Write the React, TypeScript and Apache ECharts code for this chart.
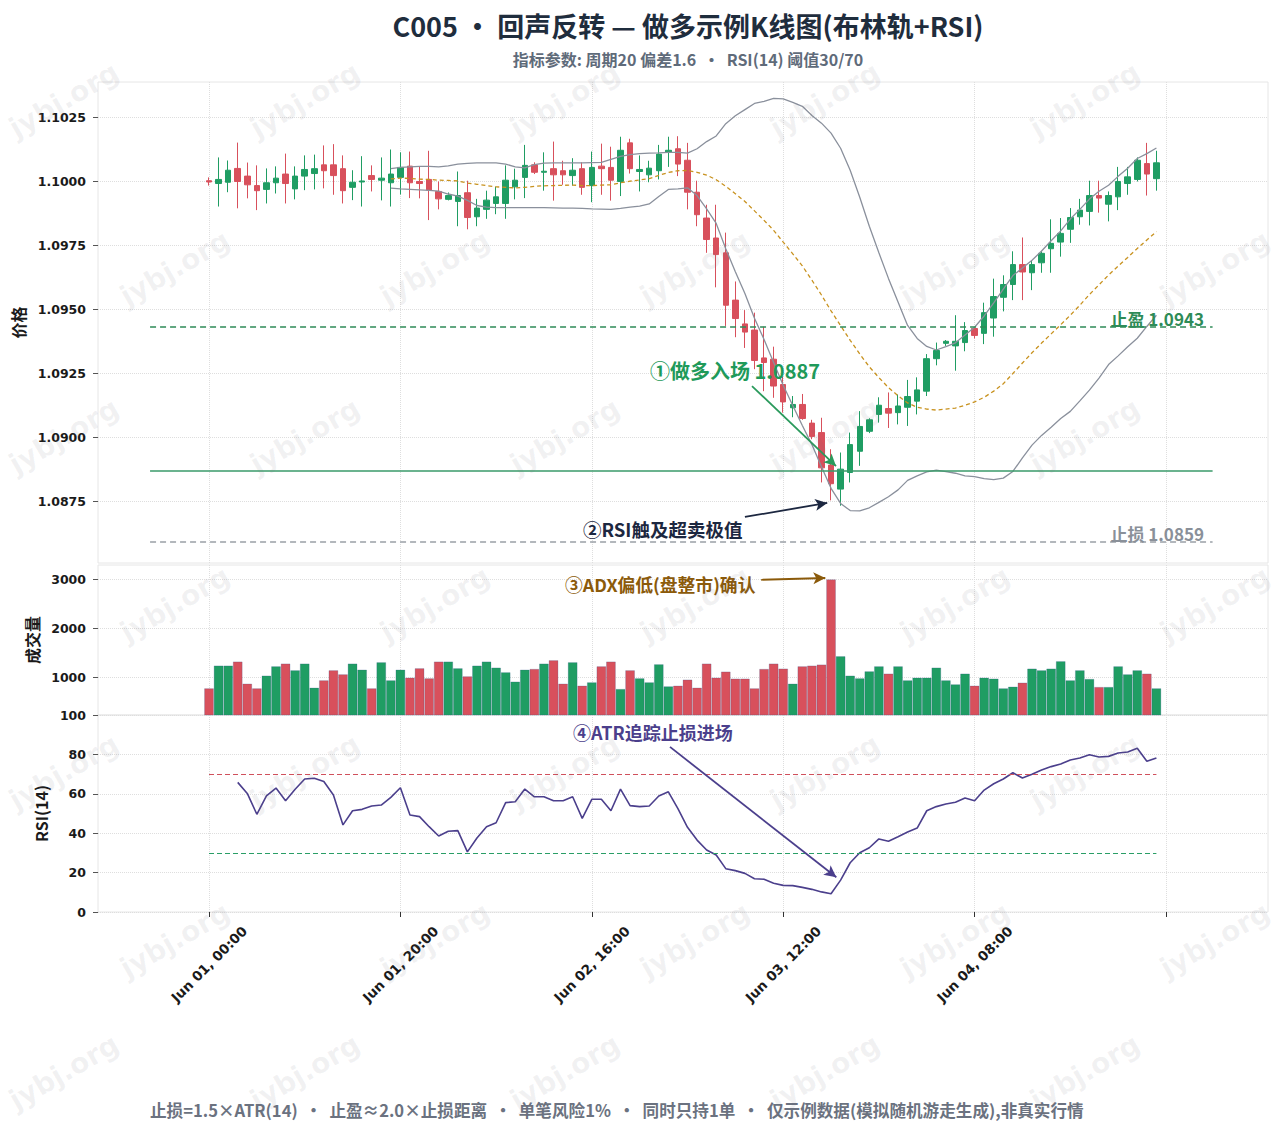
import React, { useEffect, useRef } from "react";
import * as echarts from "echarts";

// ---------- data ----------
const xTickHours = [0, 20, 40, 60, 80];
const xTickLabels = ["Jun 01, 00:00", "Jun 01, 20:00", "Jun 02, 16:00", "Jun 03, 12:00", "Jun 04, 08:00"];
const xGridHours = [0, 20, 40, 60, 80, 100];
const priceTicks = [1.0875, 1.09, 1.0925, 1.095, 1.0975, 1.1, 1.1025];
const volumeTicks = [1000, 2000, 3000];

const opens = [
  1.10003, 1.09992, 1.09997, 1.10051, 1.10021, 1.09984, 1.09969, 1.09995, 1.10029, 1.09971,
  1.10021, 1.10031, 1.10065, 1.10065, 1.1005, 1.09977, 1.09998, 1.10023, 1.10005, 1.09995,
  1.10016, 1.1006, 1.1, 1.10008, 1.09961, 1.0993, 1.09922, 1.09956, 1.09862, 1.09891,
  1.09914, 1.09914, 1.09979, 1.10016, 1.10065, 1.10036, 1.1005, 1.10042, 1.10023, 1.1005,
  1.09984, 1.1006, 1.10055, 1.1, 1.10151, 1.10039, 1.10026, 1.10042, 1.10114, 1.10128,
  1.10083, 1.09958, 1.09857, 1.09779, 1.09721, 1.09536, 1.09443, 1.09419, 1.0931, 1.09305,
  1.09206, 1.09115, 1.09128, 1.09055, 1.09018, 1.08891, 1.08797, 1.08862, 1.08945, 1.09023,
  1.09089, 1.09112, 1.09096, 1.09117, 1.09141, 1.0918, 1.09307, 1.09367, 1.09357, 1.0937,
  1.09425, 1.09406, 1.09466, 1.09547, 1.09597, 1.09675, 1.09643, 1.09682, 1.09737, 1.09763,
  1.09813, 1.09862, 1.09883, 1.09945, 1.09911, 1.0994, 1.09992, 1.10008, 1.1007, 1.10011,
];
const closes = [
  1.09998, 1.10008, 1.10044, 1.1, 1.09987, 1.09964, 1.09995, 1.10013, 1.09992, 1.10021,
  1.10047, 1.1005, 1.10042, 1.10023, 1.09964, 1.09997, 1.10002, 1.10008, 1.10013, 1.10029,
  1.10055, 1.09995, 1.09992, 1.09966, 1.09932, 1.09945, 1.09945, 1.09859, 1.09896, 1.09927,
  1.0994, 1.10005, 1.10005, 1.10063, 1.10036, 1.1004, 1.10026, 1.10026, 1.10044, 1.09977,
  1.10055, 1.1005, 1.10005, 1.10122, 1.1005, 1.10047, 1.10052, 1.10107, 1.10122, 1.10068,
  1.09958, 1.0987, 1.09773, 1.09714, 1.09516, 1.09464, 1.09411, 1.093, 1.09292, 1.092,
  1.09138, 1.09128, 1.09073, 1.09003, 1.0888, 1.08818, 1.08875, 1.08971, 1.09042, 1.09068,
  1.09125, 1.09094, 1.09122, 1.09159, 1.09185, 1.09307, 1.09339, 1.09375, 1.09375, 1.09417,
  1.09398, 1.09487, 1.0955, 1.09597, 1.09675, 1.09646, 1.09675, 1.09719, 1.09758, 1.09797,
  1.09859, 1.09888, 1.09945, 1.09935, 1.09945, 1.1, 1.10018, 1.10083, 1.10029, 1.10073,
];
const lows = [
  1.09984, 1.09902, 1.09958, 1.09895, 1.09934, 1.09888, 1.09914, 1.09953, 1.09914, 1.0993,
  1.09966, 1.09969, 1.09973, 1.09948, 1.09914, 1.09927, 1.09902, 1.09961, 1.09926, 1.09902,
  1.09949, 1.09935, 1.09934, 1.09849, 1.09891, 1.09926, 1.09825, 1.09813, 1.09825, 1.09854,
  1.09872, 1.09854, 1.0993, 1.09935, 1.10029, 1.09964, 1.09925, 1.09987, 1.09984, 1.09948,
  1.09919, 1.09948, 1.09925, 1.09943, 1.10031, 1.09961, 1.09997, 1.10008, 1.10057, 1.10021,
  1.09891, 1.09825, 1.09721, 1.09586, 1.09435, 1.09391, 1.09349, 1.09266, 1.0918, 1.09154,
  1.09096, 1.09078, 1.09068, 1.08992, 1.08823, 1.08753, 1.08732, 1.08823, 1.08888, 1.09016,
  1.09057, 1.09036, 1.0905, 1.09044, 1.09089, 1.09161, 1.09281, 1.09357, 1.0926, 1.09336,
  1.09386, 1.09364, 1.09393, 1.09492, 1.09536, 1.09536, 1.09575, 1.09643, 1.09643, 1.09706,
  1.0976, 1.09831, 1.09828, 1.09878, 1.09844, 1.09888, 1.09948, 1.1, 1.09945, 1.09964,
];
const highs = [
  1.10016, 1.10094, 1.10082, 1.10152, 1.10074, 1.10063, 1.10051, 1.10059, 1.10109, 1.10059,
  1.10102, 1.10105, 1.10141, 1.10146, 1.10102, 1.10044, 1.10099, 1.10063, 1.10094, 1.10125,
  1.10114, 1.10117, 1.10059, 1.1012, 1.1, 1.09957, 1.10039, 1.10003, 1.09932, 1.09964,
  1.09979, 1.10063, 1.1005, 1.10143, 1.10075, 1.10114, 1.10156, 1.10081, 1.10091, 1.10075,
  1.10117, 1.10148, 1.10136, 1.10175, 1.10167, 1.10102, 1.10081, 1.10143, 1.10175, 1.10177,
  1.10151, 1.10003, 1.09909, 1.09909, 1.098, 1.09609, 1.09497, 1.09487, 1.09432, 1.09354,
  1.09237, 1.09161, 1.09169, 1.09068, 1.09076, 1.08953, 1.0894, 1.09018, 1.09102, 1.09074,
  1.09156, 1.09175, 1.09167, 1.09224, 1.09234, 1.09325, 1.0937, 1.0938, 1.09477, 1.0945,
  1.09427, 1.09526, 1.0962, 1.09633, 1.09727, 1.09781, 1.0969, 1.09729, 1.09852, 1.09857,
  1.09896, 1.09932, 1.10003, 1.10003, 1.09961, 1.10057, 1.10057, 1.10094, 1.10151, 1.1012,
];
const volumes = [
  776, 1238, 1238, 1320, 871, 776, 1034, 1224, 1279, 1143,
  1279, 789, 939, 1143, 1061, 1279, 1156, 776, 1306, 939,
  1156, 993, 1184, 980, 1320, 1320, 1184, 1020, 1238, 1320,
  1197, 1102, 912, 1156, 1170, 1279, 1347, 871, 1306, 830,
  898, 1224, 1320, 762, 1143, 980, 898, 1265, 816, 830,
  953, 789, 1279, 993, 1116, 973, 973, 776, 1170, 1279,
  1177, 871, 1224, 1238, 1259, 2993, 1429, 1034, 980, 1122,
  1224, 1075, 1224, 939, 993, 993, 1197, 939, 857, 1075,
  830, 993, 973, 776, 810, 892, 1177, 1143, 1177, 1327,
  939, 1143, 966, 803, 803, 1224, 1061, 1143, 1075, 776,
];
const rsiStart = 3;
const rsiValues = [
  65.8, 60.2, 49.6, 58.9, 62.9, 56.5, 62.3, 67.5, 67.9, 66.2,
  59.4, 44.2, 51.4, 52.1, 53.8, 54.3, 58.2, 63.1, 49.2, 48.4,
  43.3, 38.6, 41.0, 41.3, 30.5, 37.6, 43.3, 45.3, 55.5, 56.0,
  62.4, 58.5, 58.5, 56.5, 56.5, 58.5, 47.5, 57.2, 57.2, 51.4,
  62.4, 54.0, 53.5, 53.8, 58.9, 61.0, 52.5, 43.0, 36.5, 31.5,
  28.9, 22.0, 21.0, 19.6, 16.9, 16.6, 14.6, 13.5, 13.4, 12.5,
  11.5, 10.2, 9.3, 16.2, 25.0, 30.1, 32.6, 37.1, 35.9, 38.2,
  40.6, 42.6, 51.4, 53.5, 54.8, 55.7, 57.9, 56.5, 61.9, 65.1,
  67.5, 70.7, 68.0, 69.9, 72.1, 73.8, 75.1, 77.2, 78.2, 79.8,
  78.7, 79.0, 80.7, 81.2, 83.1, 76.5, 78.2,
];
const bandStart = 19;
const bbUpper = [
  1.1005, 1.10055, 1.10057, 1.10059, 1.10059, 1.10057, 1.10061, 1.10068, 1.10071, 1.10073,
  1.10073, 1.10073, 1.10068, 1.10057, 1.10053, 1.10066, 1.10072, 1.10073, 1.10073, 1.10073,
  1.10073, 1.10074, 1.10075, 1.10086, 1.10098, 1.10105, 1.10109, 1.10111, 1.10112, 1.10114,
  1.10114, 1.10111, 1.10128, 1.10156, 1.10178, 1.10226, 1.10257, 1.10281, 1.10305, 1.10313,
  1.10325, 1.10323, 1.10309, 1.10294, 1.10258, 1.10228, 1.10189, 1.1013, 1.10044, 1.09938,
  1.09825, 1.09721, 1.09621, 1.09529, 1.09437, 1.09386, 1.09355, 1.09341, 1.09354, 1.09369,
  1.094, 1.0943, 1.09474, 1.09525, 1.09579, 1.09632, 1.09662, 1.09692, 1.09728, 1.09768,
  1.09807, 1.09853, 1.09891, 1.09931, 1.09962, 1.09985, 1.1002, 1.10052, 1.1009, 1.10109,
  1.10131,
];
const bbMid = [
  1.1001, 1.10013, 1.10012, 1.10009, 1.10008, 1.10005, 1.10004, 1.10002, 1.09994, 1.09989,
  1.09984, 1.09979, 1.09977, 1.09975, 1.09977, 1.09981, 1.09983, 1.09984, 1.09985, 1.09986,
  1.09984, 1.09984, 1.09986, 1.09987, 1.09995, 1.10001, 1.10006, 1.10011, 1.10024, 1.10035,
  1.10042, 1.10043, 1.10036, 1.10025, 1.10007, 1.09981, 1.09952, 1.09922, 1.09885, 1.09848,
  1.09809, 1.09763, 1.09717, 1.0967, 1.09614, 1.09556, 1.09494, 1.09436, 1.09379, 1.09325,
  1.09275, 1.09233, 1.09194, 1.09162, 1.09134, 1.09117, 1.0911, 1.09106, 1.0911, 1.09114,
  1.09125, 1.09138, 1.09156, 1.0918, 1.09209, 1.09249, 1.0929, 1.0933, 1.09368, 1.09404,
  1.0944, 1.09477, 1.09516, 1.09558, 1.09596, 1.09634, 1.09669, 1.09703, 1.09738, 1.09771,
  1.09804,
];
const bbLower = [
  1.09974, 1.09971, 1.09969, 1.09967, 1.09965, 1.09962, 1.09951, 1.09943, 1.09926, 1.09906,
  1.099, 1.09898, 1.09898, 1.09898, 1.09898, 1.09898, 1.09898, 1.09897, 1.09896, 1.09896,
  1.09895, 1.09893, 1.09892, 1.09891, 1.09895, 1.099, 1.09904, 1.09912, 1.09941, 1.09969,
  1.09971, 1.09975, 1.09945, 1.09893, 1.09836, 1.09737, 1.09647, 1.09562, 1.09465, 1.09382,
  1.09292, 1.09203, 1.09124, 1.09046, 1.08971, 1.08884, 1.088, 1.08741, 1.08713, 1.08712,
  1.08724, 1.08745, 1.08767, 1.08794, 1.08831, 1.08849, 1.08864, 1.08871, 1.08865, 1.08859,
  1.08849, 1.08846, 1.08838, 1.08834, 1.0884, 1.08866, 1.08919, 1.08969, 1.09007, 1.09039,
  1.09073, 1.09101, 1.09142, 1.09184, 1.09231, 1.09284, 1.09318, 1.09354, 1.09387, 1.09433,
  1.09477,
];

const takeProfit = 1.0943;
const entryPrice = 1.0887;
const stopLoss = 1.0859;
const rsiOverbought = 70;
const rsiOversold = 30;

// ---------- styles ----------
const UP = "#1f9d63";
const DOWN = "#d8505c";
const CJK = "Noto Sans CJK SC";
const NUM = "DejaVu Sans";
const GRID_LINE = { show: true, lineStyle: { color: "#dedede", type: "dotted" as const, width: 1 } };

function xAxisFor(gridIndex: number, bottom: boolean) {
  return {
    type: "value",
    gridIndex,
    min: -11.6,
    max: 110.66,
    splitNumber: 6,
    axisLine: { show: false, onZero: false },
    splitLine: GRID_LINE,
    axisTick: {
      show: bottom,
      customValues: xGridHours,
      length: 5,
      lineStyle: { color: "#333" },
    },
    axisLabel: {
      show: bottom,
      customValues: xTickHours,
      rotate: 45,
      align: "center",
      verticalAlign: "middle",
      margin: 52,
      fontFamily: NUM,
      fontWeight: "bold",
      fontSize: 13.5,
      color: "#1a1a1a",
      formatter: (v: number) => {
        const k = xTickHours.indexOf(Math.round(v));
        return k >= 0 && Math.abs(v - Math.round(v)) < 1e-6 ? xTickLabels[k] : "";
      },
    },
  };
}

function yLabel(fmt?: (v: number) => string, custom?: number[]) {
  return {
    customValues: custom,
    fontFamily: NUM,
    fontWeight: "bold",
    fontSize: 12.5,
    color: "#1a1a1a",
    margin: 12,
    formatter: fmt,
  };
}

const nameStyle = { fontFamily: CJK, fontWeight: "bold", fontSize: 16, color: "#1a1a1a" };
const tickStyle = (custom?: number[]) => ({ show: true, length: 5, lineStyle: { color: "#555" }, customValues: custom });

function buildOption() {
  const candleData = closes.map((c, i) => [i, opens[i], c, lows[i], highs[i]]);
  const volumeData = volumes.map((v, i) => ({
    value: [i, v],
    itemStyle: { color: closes[i] >= opens[i] ? UP : DOWN },
  }));
  const rsiData = rsiValues.map((v, k) => [rsiStart + k, v]);
  const band = (arr: number[]) => arr.map((v, k) => [bandStart + k, v]);
  const lastIdx = closes.length - 1;

  const watermarks: any[] = [];
  const rowsY = [100, 268, 436, 604, 772, 940, 1072];
  rowsY.forEach((y, r) => {
    for (let c = 0; c < 5; c++) {
      const x = r % 2 === 0 ? (c === 0 ? 64 : 45 + 260 * c) : 175 + 260 * c;
      watermarks.push({
        type: "text",
        x,
        y,
        rotation: Math.PI / 6,
        silent: true,
        z: 100,
        style: {
          text: "jybj.org",
          fill: "rgba(110,110,120,0.09)",
          fontSize: 28,
          fontWeight: "bold",
          fontFamily: NUM,
          align: "center",
          verticalAlign: "middle",
        },
      });
    }
  });

  const txt = (x: number, y: number, text: string, color: string, size: number, align = "left") => ({
    type: "text",
    x,
    y,
    z: 50,
    silent: true,
    style: { text, fill: color, fontSize: size, fontWeight: "bold", fontFamily: CJK, align, verticalAlign: "middle" },
  });

  const arrowEnd = (coord: number[]) => ({ coord, symbol: "arrow", symbolSize: [9, 12] });

  return {
    animation: false,
    backgroundColor: "#ffffff",
    title: [
      {
        text: "C005 · 回声反转 — 做多示例K线图(布林轨+RSI)",
        left: 683,
        top: 7,
        textAlign: "center",
        textStyle: { fontFamily: CJK, fontSize: 27, fontWeight: "bold", color: "#1f2d3d" },
      },
      {
        text: "指标参数: 周期20 偏差1.6  ·  RSI(14) 阈值30/70",
        left: 683,
        top: 46,
        textAlign: "center",
        textStyle: { fontFamily: CJK, fontSize: 16, fontWeight: "bold", color: "#5f6b7a" },
      },
    ],
    grid: [
      { left: 98, right: 10, top: 82, height: 481, show: true, borderColor: "#e6e6e6", borderWidth: 1 },
      { left: 98, right: 10, top: 565, height: 150, show: true, borderColor: "#e6e6e6", borderWidth: 1 },
      { left: 98, right: 10, top: 715, height: 197, show: true, borderColor: "#e6e6e6", borderWidth: 1 },
    ],
    xAxis: [xAxisFor(0, false), xAxisFor(1, false), xAxisFor(2, true)],
    yAxis: [
      {
        type: "value",
        gridIndex: 0,
        min: 1.08508,
        max: 1.10389,
        name: "价格",
        nameLocation: "middle",
        nameGap: 72,
        nameTextStyle: nameStyle,
        axisLine: { show: false, onZero: false },
        axisTick: tickStyle(priceTicks),
        axisLabel: yLabel((v: number) => v.toFixed(4), priceTicks),
        splitLine: GRID_LINE,
      },
      {
        type: "value",
        gridIndex: 1,
        min: 235,
        max: 3286,
        name: "成交量",
        nameLocation: "middle",
        nameGap: 55,
        nameTextStyle: nameStyle,
        axisLine: { show: false, onZero: false },
        axisTick: tickStyle(volumeTicks),
        axisLabel: yLabel((v: number) => String(Math.round(v)), volumeTicks),
        splitLine: GRID_LINE,
      },
      {
        type: "value",
        gridIndex: 2,
        min: 0,
        max: 100,
        interval: 20,
        name: "RSI(14)",
        nameLocation: "middle",
        nameGap: 46,
        nameTextStyle: nameStyle,
        axisLine: { show: false, onZero: false },
        axisTick: tickStyle(),
        axisLabel: yLabel(),
        splitLine: GRID_LINE,
      },
    ],
    series: [
      {
        type: "candlestick",
        name: "K线",
        xAxisIndex: 0,
        yAxisIndex: 0,
        data: candleData,
        barWidth: 6,
        z: 2,
        itemStyle: { color: UP, color0: DOWN, borderColor: UP, borderColor0: DOWN, borderWidth: 1 },
      },
      {
        type: "line",
        name: "上轨",
        xAxisIndex: 0,
        yAxisIndex: 0,
        data: band(bbUpper),
        showSymbol: false,
        z: 3,
        lineStyle: { color: "#8a909c", width: 1.3 },
      },
      {
        type: "line",
        name: "下轨",
        xAxisIndex: 0,
        yAxisIndex: 0,
        data: band(bbLower),
        showSymbol: false,
        z: 3,
        lineStyle: { color: "#8a909c", width: 1.3 },
      },
      {
        type: "line",
        name: "中轨",
        xAxisIndex: 0,
        yAxisIndex: 0,
        data: band(bbMid),
        showSymbol: false,
        z: 3,
        lineStyle: { color: "#c8921f", width: 1.3, type: [4, 3] },
        markLine: {
          silent: true,
          symbol: ["none", "none"],
          label: { show: false },
          emphasis: { disabled: true },
          data: [
            [
              { coord: [-6.16, takeProfit], lineStyle: { color: "#2e8b57", type: [6, 4], width: 1.6 } },
              { coord: [104.87, takeProfit] },
            ],
            [
              { coord: [-6.16, entryPrice], lineStyle: { color: "#3a9a6a", type: "solid", width: 1.6 } },
              { coord: [104.87, entryPrice] },
            ],
            [
              { coord: [-6.16, stopLoss], lineStyle: { color: "#9aa0a7", type: [6, 4], width: 1.6 } },
              { coord: [104.87, stopLoss] },
            ],
            [
              { coord: [56.74, 1.092], lineStyle: { color: "#2a9a5c", type: "solid", width: 1.8 } },
              arrowEnd([65.52, 1.08887]),
            ],
            [
              { coord: [56.0, 1.08688], lineStyle: { color: "#1c2740", type: "solid", width: 1.8 } },
              arrowEnd([64.6, 1.08743]),
            ],
          ],
        },
      },
      {
        type: "bar",
        name: "成交量",
        xAxisIndex: 1,
        yAxisIndex: 1,
        data: volumeData,
        barWidth: 9.4,
        itemStyle: { borderColor: "rgba(50,80,140,0.45)", borderWidth: 0.5 },
        markLine: {
          silent: true,
          symbol: ["none", "none"],
          label: { show: false },
          emphasis: { disabled: true },
          data: [
            [
              { coord: [57.7, 2985], lineStyle: { color: "#8b5a0a", type: "solid", width: 1.8 } },
              arrowEnd([64.4, 3022]),
            ],
          ],
        },
      },
      {
        type: "line",
        name: "RSI(14)",
        xAxisIndex: 2,
        yAxisIndex: 2,
        data: rsiData,
        showSymbol: false,
        lineStyle: { color: "#4b3f8c", width: 1.6 },
        markLine: {
          silent: true,
          symbol: ["none", "none"],
          label: { show: false },
          emphasis: { disabled: true },
          data: [
            [
              { coord: [0, rsiOverbought], lineStyle: { color: "#d0505c", type: [5, 3], width: 1 } },
              { coord: [lastIdx, rsiOverbought] },
            ],
            [
              { coord: [0, rsiOversold], lineStyle: { color: "#2a9e66", type: [5, 3], width: 1 } },
              { coord: [lastIdx, rsiOversold] },
            ],
            [
              { coord: [48.17, 83.8], lineStyle: { color: "#4b3f8c", type: "solid", width: 1.8 } },
              arrowEnd([65.55, 17.6]),
            ],
          ],
        },
      },
    ],
    graphic: [
      txt(650, 370, "①做多入场 1.0887", "#1f9a5a", 20),
      txt(583, 529, "②RSI触及超卖极值", "#1c2740", 18.5),
      txt(565, 584, "③ADX偏低(盘整市)确认", "#8b5a0a", 17.8),
      txt(573, 732, "④ATR追踪止损进场", "#4b3f8c", 18),
      txt(1204, 318, "止盈 1.0943", "#2e8b57", 17, "right"),
      txt(1204, 533, "止损 1.0859", "#8a9099", 17, "right"),
      txt(150, 1110, "止损=1.5×ATR(14)  ·  止盈≈2.0×止损距离  ·  单笔风险1%  ·  同时只持1单  ·  仅示例数据(模拟随机游走生成),非真实行情", "#6b7280", 16.6),
      ...watermarks,
    ],
  };
}

export default function App() {
  const ref = useRef<HTMLDivElement>(null);
  useEffect(() => {
    if (!ref.current) return;
    const chart = echarts.init(ref.current, null, { renderer: "svg" });
    chart.setOption(buildOption() as any);
    return () => chart.dispose();
  }, []);
  return (
    <div
      ref={ref}
      style={{ position: "fixed", left: 0, top: 0, width: 1278, height: 1131, background: "#ffffff" }}
    />
  );
}
